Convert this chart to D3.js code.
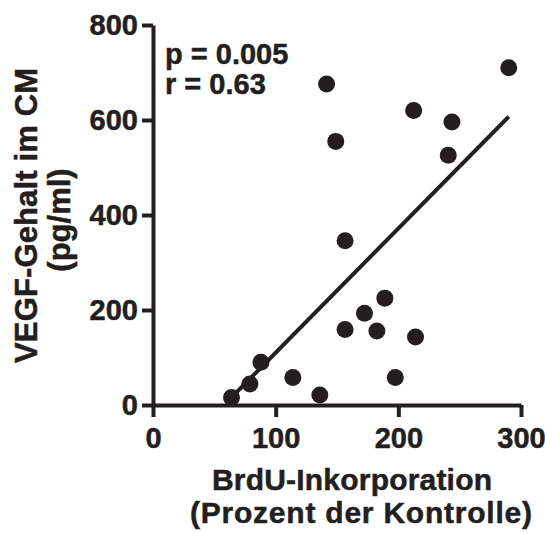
<!DOCTYPE html>
<html>
<head>
<style>
body { margin: 0; background: #fff; }
text { font-family: "Liberation Sans", Arial, sans-serif; font-weight: bold; fill: #231f20; stroke: #231f20; stroke-width: 0.5px; }
</style>
</head>
<body>
</body>
<script src="https://d3js.org/d3.v7.min.js"></script>
<script>
// BrdU incorporation (% of control) vs VEGF content in CM (pg/ml)
var brdu = [141.5, 290, 212.5, 243.7, 240.7, 149, 156.6, 189, 172.4, 156.6, 182.5, 214, 197.5, 114, 136, 88, 79, 64];
var vegf = [676, 710, 620, 596, 526, 555, 346, 225, 193, 159, 156, 143, 58, 58, 21, 90, 44, 16];
var xTicks = [0, 100, 200, 300];
var yTicks = [0, 200, 400, 600, 800];
var statLines = ["p = 0.005", "r = 0.63"];

var ink = "#231f20";

var svg = d3.select("body").append("svg")
    .attr("width", 545)
    .attr("height", 533);

var x = d3.scaleLinear().domain([0, 300]).range([153, 521]);
var y = d3.scaleLinear().domain([0, 800]).range([405, 25]);

// least squares fit
var mx = d3.mean(brdu), my = d3.mean(vegf);
var sxy = 0, sxx = 0;
for (var i = 0; i < brdu.length; i++) {
    sxy += (brdu[i] - mx) * (vegf[i] - my);
    sxx += (brdu[i] - mx) * (brdu[i] - mx);
}
var slope = sxy / sxx;
var intercept = my - slope * mx;
var x0 = d3.min(brdu), x1 = d3.max(brdu);

var xAxis = svg.append("g")
    .attr("transform", "translate(0,405)")
    .call(d3.axisBottom(x).tickValues(xTicks).tickSize(12).tickSizeOuter(0).tickPadding(8));
var yAxis = svg.append("g")
    .attr("transform", "translate(153,0)")
    .call(d3.axisLeft(y).tickValues(yTicks).tickSize(11).tickSizeOuter(0).tickPadding(4));

[xAxis, yAxis].forEach(function (g) {
    g.select(".domain").attr("stroke", ink).attr("stroke-width", 4);
    g.selectAll(".tick line").attr("stroke", ink).attr("stroke-width", 4);
    g.selectAll(".tick text")
        .attr("fill", ink)
        .style("font-size", "29px")
        .style("font-family", "'Liberation Sans', Arial, sans-serif")
        .style("font-weight", "bold");
});
xAxis.selectAll(".tick text").attr("dy", "0.8em");

svg.append("line")
    .attr("x1", x(x0))
    .attr("y1", y(intercept + slope * x0))
    .attr("x2", x(x1))
    .attr("y2", y(intercept + slope * x1))
    .attr("stroke", ink)
    .attr("stroke-width", 4);

svg.selectAll("circle")
    .data(brdu)
    .enter()
    .append("circle")
    .attr("cx", function (d) { return x(d); })
    .attr("cy", function (d, i) { return y(vegf[i]); })
    .attr("r", 8.5)
    .style("fill", ink);

svg.selectAll(".stat")
    .data(statLines)
    .enter()
    .append("text")
    .attr("class", "stat")
    .attr("x", 165)
    .attr("y", function (d, i) { return 64 + i * 30; })
    .style("font-size", "29px")
    .text(function (d) { return d; });

// axis titles
svg.append("text")
    .attr("x", 352).attr("y", 490)
    .attr("text-anchor", "middle")
    .attr("textLength", 280)
    .style("font-size", "30px")
    .text("BrdU-Inkorporation");
svg.append("text")
    .attr("x", 361).attr("y", 523)
    .attr("text-anchor", "middle")
    .attr("textLength", 342)
    .style("font-size", "30px")
    .text("(Prozent der Kontrolle)");

svg.append("text")
    .attr("transform", "translate(37,215.5) rotate(-90)")
    .attr("text-anchor", "middle")
    .attr("textLength", 295)
    .style("font-size", "31px")
    .text("VEGF-Gehalt im CM");
svg.append("text")
    .attr("transform", "translate(70,220) rotate(-90)")
    .attr("text-anchor", "middle")
    .style("font-size", "31px")
    .text("(pg/ml)");
</script>
</html>
